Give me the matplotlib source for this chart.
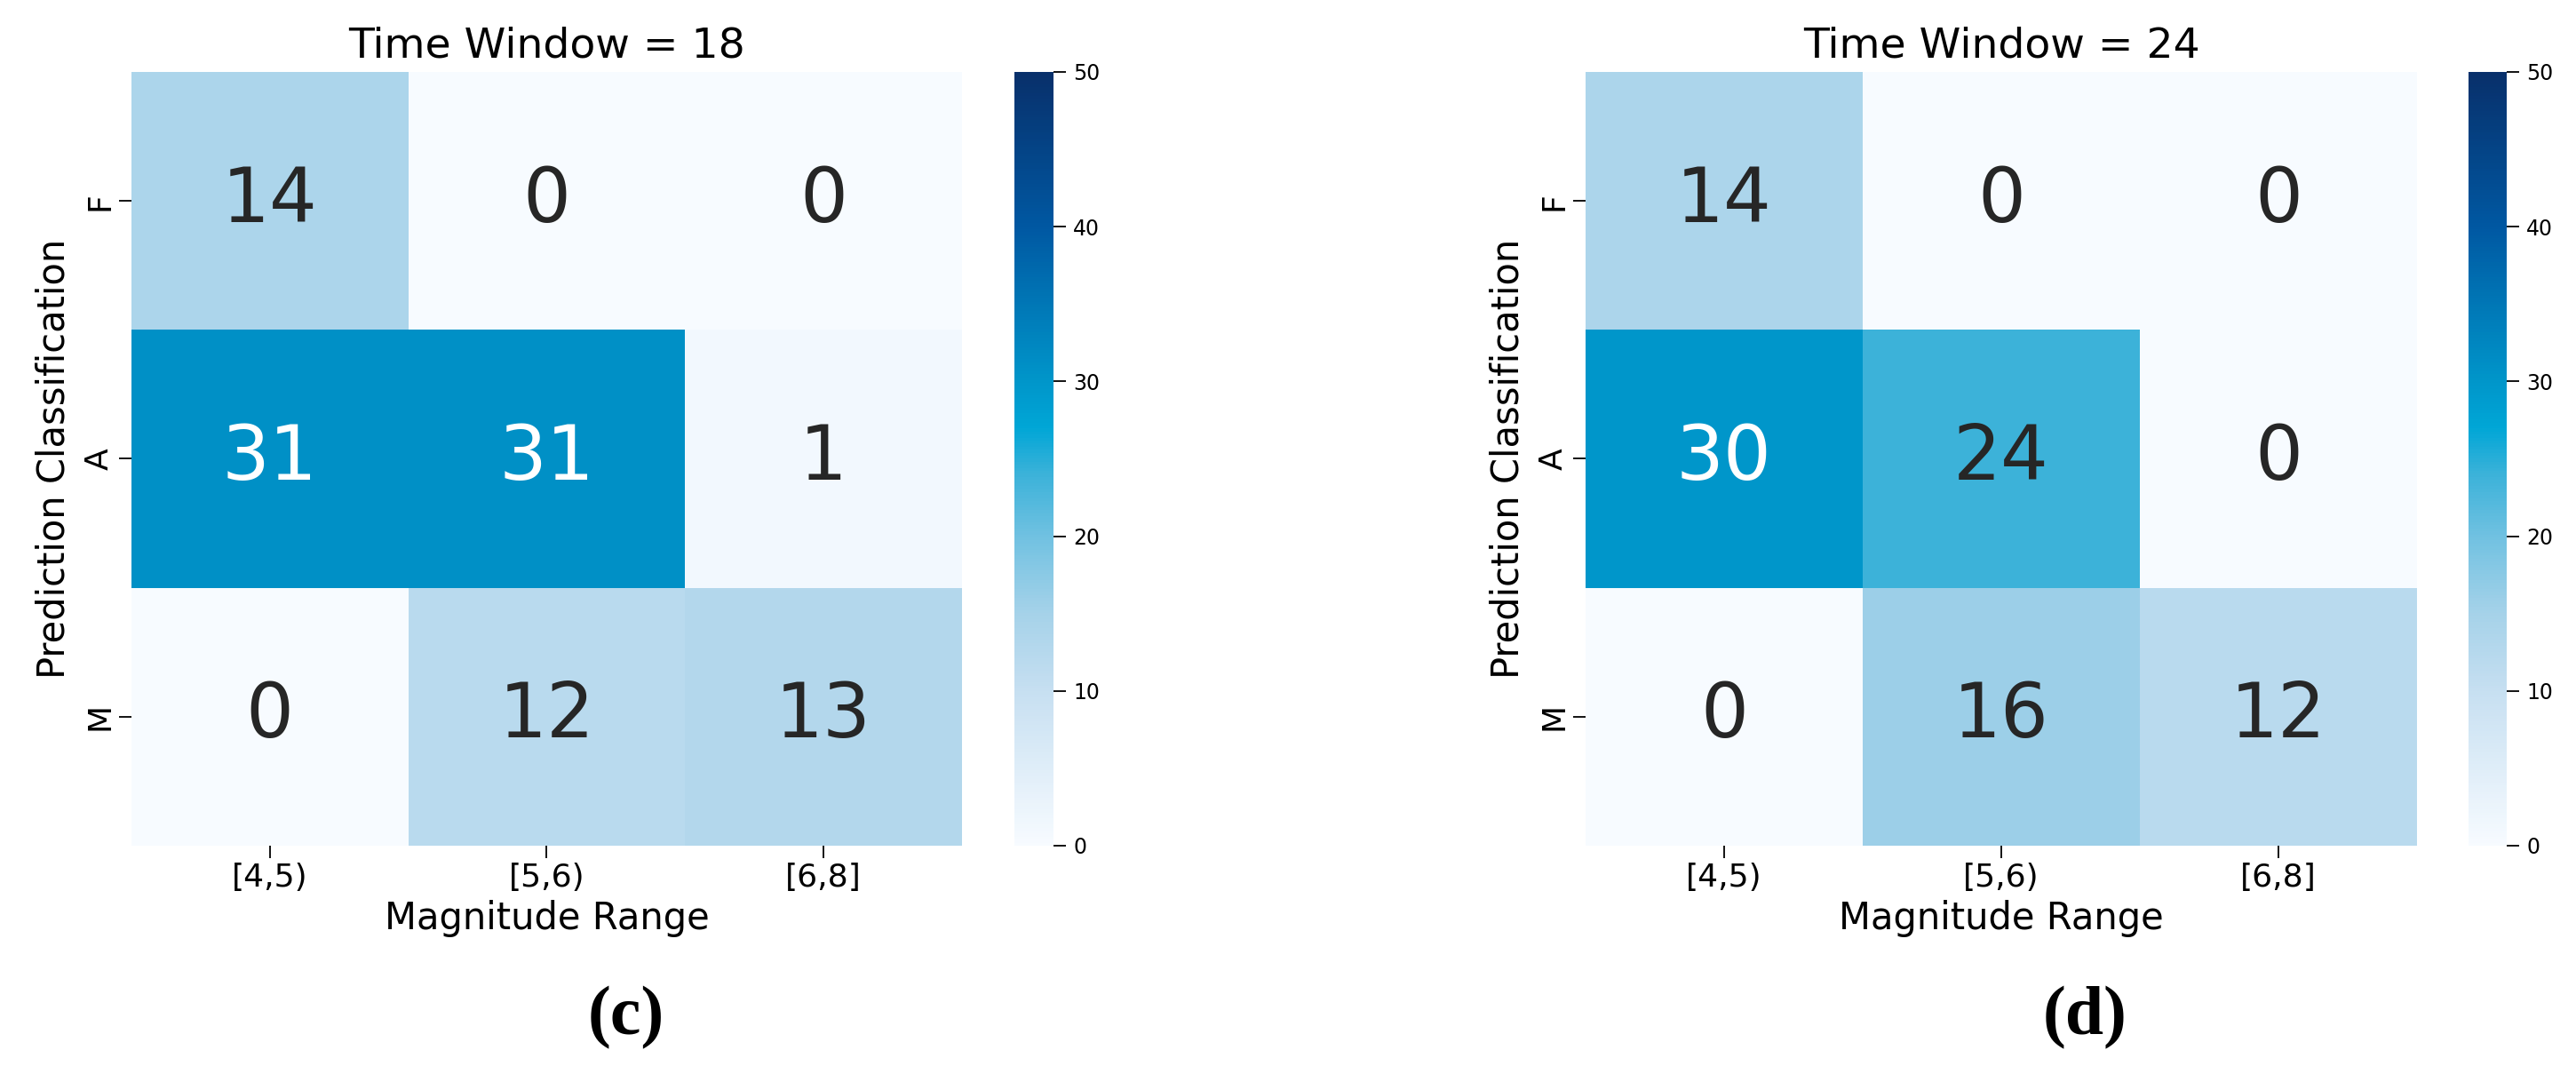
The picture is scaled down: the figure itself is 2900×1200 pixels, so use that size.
import numpy as np
import matplotlib
matplotlib.use("Agg")
import matplotlib.pyplot as plt
from matplotlib.colors import LinearSegmentedColormap
import seaborn as sns

# confusion matrices
row_labels = ["F", "A", "M"]
col_labels = ["[4,5)", "[5,6)", "[6,8]"]
tw18 = [[14, 0, 0],
        [31, 31, 1],
        [0, 12, 13]]
tw24 = [[14, 0, 0],
        [30, 24, 0],
        [0, 16, 12]]
panel_titles = ["Time Window = 18", "Time Window = 24"]
panel_tags = ["(c)", "(d)"]

# blue ramp with the bright cyan knee seen in the colorbar
cmap = LinearSegmentedColormap.from_list("cm_blues", [
    (0.00, "#f7fbff"),
    (0.20, "#c6dff1"),
    (0.30, "#a5d2e9"),
    (0.40, "#70c1e1"),
    (0.48, "#3bb2d9"),
    (0.54, "#00a6d6"),
    (0.60, "#0096ca"),
    (0.80, "#0058a2"),
    (1.00, "#08306b"),
])

fig = plt.figure(figsize=(29, 12), dpi=100)

ax_pos = [[0.0510, 0.2067, 0.3224, 0.7258], [0.6155, 0.2067, 0.3228, 0.7258]]
cb_pos = [[0.3938, 0.2067, 0.0152, 0.7258], [0.9583, 0.2067, 0.0148, 0.7258]]
tag_x = [0.2430, 0.8095]

for k, mat in enumerate([tw18, tw24]):
    ax = fig.add_axes(ax_pos[k])
    cax = fig.add_axes(cb_pos[k])
    mat = np.array(mat)
    sns.heatmap(mat, ax=ax, cbar_ax=cax, cmap=cmap, vmin=0, vmax=50,
                annot=True, fmt="d", annot_kws={"size": 61},
                xticklabels=col_labels, yticklabels=row_labels)
    # text colour: white only on the deep cells
    for t in ax.texts:
        v = int(t.get_text())
        t.set_color("white" if v > 27 else "#262626")
    ax.set_title(panel_titles[k], fontsize=34, pad=12)
    ax.set_xlabel("Magnitude Range", fontsize=30, labelpad=6)
    ax.set_ylabel("Prediction Classification", fontsize=30, labelpad=10)
    ax.tick_params(axis="both", labelsize=26, length=10, width=1.3)
    for lab in ax.get_yticklabels():
        lab.set_rotation(90)
        lab.set_va("center")
    cax.tick_params(labelsize=17, length=10, width=1.3, pad=6)
    cax.set_yticks([0, 10, 20, 30, 40, 50])
    fig.text(tag_x[k], 0.0450, panel_tags[k], ha="center", va="center",
             fontsize=56, fontweight="bold", family="Liberation Serif")

fig.savefig("out.png", dpi=100)
